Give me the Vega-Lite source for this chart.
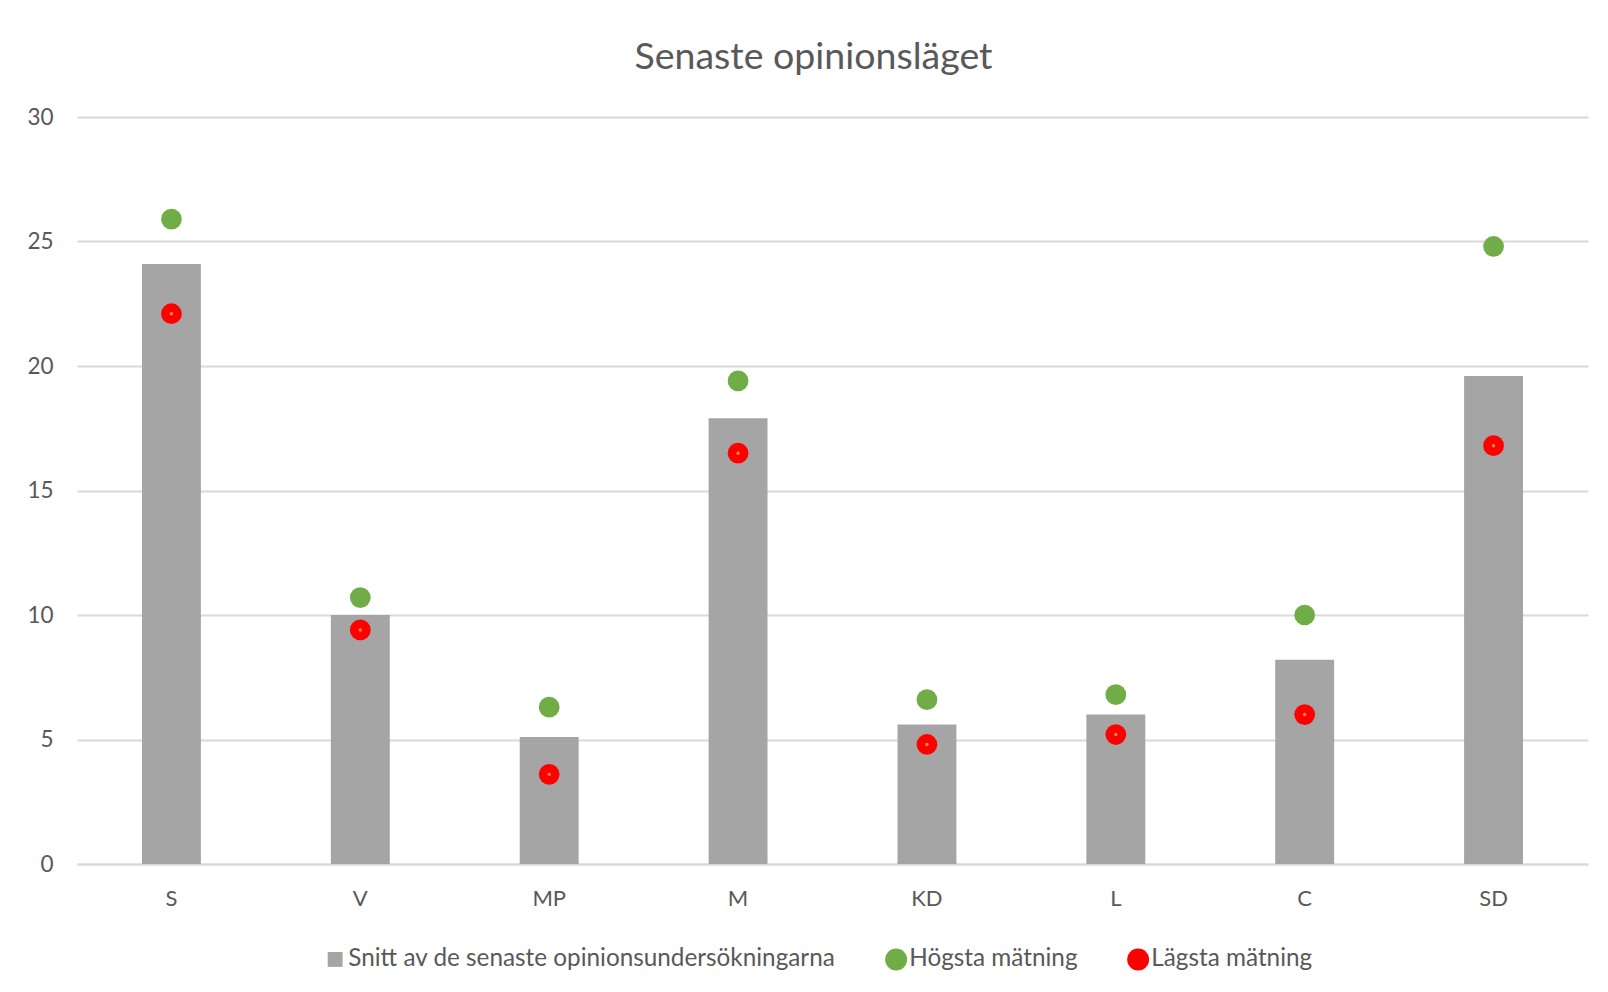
{
  "$schema": "https://vega.github.io/schema/vega-lite/v6.json",
  "width": 1511,
  "height": 747,
  "autosize": {"type": "none"},
  "padding": {"left": 77, "top": 117, "right": 20, "bottom": 128},
  "background": "white",
  "title": {"text": "Senaste opinionsläget", "fontSize": 37.5, "font": "Lato", "fontWeight": "normal", "color": "#595959", "anchor": "middle", "offset": 30, "dx": -19},
  "config": {"view": {"stroke": null}, "font": "Lato"},
  "data": {"values": [
    {"parti": "S", "serie": "Snitt av de senaste opinionsundersökningarna", "varde": 24.1},
    {"parti": "V", "serie": "Snitt av de senaste opinionsundersökningarna", "varde": 10.0},
    {"parti": "MP", "serie": "Snitt av de senaste opinionsundersökningarna", "varde": 5.1},
    {"parti": "M", "serie": "Snitt av de senaste opinionsundersökningarna", "varde": 17.9},
    {"parti": "KD", "serie": "Snitt av de senaste opinionsundersökningarna", "varde": 5.6},
    {"parti": "L", "serie": "Snitt av de senaste opinionsundersökningarna", "varde": 6.0},
    {"parti": "C", "serie": "Snitt av de senaste opinionsundersökningarna", "varde": 8.2},
    {"parti": "SD", "serie": "Snitt av de senaste opinionsundersökningarna", "varde": 19.6},
    {"parti": "S", "serie": "Högsta mätning", "varde": 25.9},
    {"parti": "V", "serie": "Högsta mätning", "varde": 10.7},
    {"parti": "MP", "serie": "Högsta mätning", "varde": 6.3},
    {"parti": "M", "serie": "Högsta mätning", "varde": 19.4},
    {"parti": "KD", "serie": "Högsta mätning", "varde": 6.6},
    {"parti": "L", "serie": "Högsta mätning", "varde": 6.8},
    {"parti": "C", "serie": "Högsta mätning", "varde": 10.0},
    {"parti": "SD", "serie": "Högsta mätning", "varde": 24.8},
    {"parti": "S", "serie": "Lägsta mätning", "varde": 22.1},
    {"parti": "V", "serie": "Lägsta mätning", "varde": 9.4},
    {"parti": "MP", "serie": "Lägsta mätning", "varde": 3.6},
    {"parti": "M", "serie": "Lägsta mätning", "varde": 16.5},
    {"parti": "KD", "serie": "Lägsta mätning", "varde": 4.8},
    {"parti": "L", "serie": "Lägsta mätning", "varde": 5.2},
    {"parti": "C", "serie": "Lägsta mätning", "varde": 6.0},
    {"parti": "SD", "serie": "Lägsta mätning", "varde": 16.8}
  ]},
  "encoding": {
    "x": {
      "field": "parti", "type": "nominal",
      "sort": ["S", "V", "MP", "M", "KD", "L", "C", "SD"],
      "scale": {"paddingInner": 0.688, "paddingOuter": 0.344},
      "axis": {"title": null, "labelAngle": 0, "labelFontSize": 22, "labelColor": "#595959", "labelFont": "Lato", "ticks": false, "domainColor": "#D9D9D9", "domainWidth": 2, "labelPadding": 24}
    },
    "y": {
      "field": "varde", "type": "quantitative",
      "scale": {"domain": [0, 30], "nice": false},
      "axis": {"title": null, "values": [0, 5, 10, 15, 20, 25, 30], "labelFontSize": 22.5, "labelColor": "#595959", "labelFont": "Lato", "ticks": false, "domain": false, "gridColor": "#D9D9D9", "gridWidth": 2, "labelPadding": 24}
    }
  },
  "layer": [
    {
      "transform": [{"filter": "datum.serie === 'Snitt av de senaste opinionsundersökningarna'"}],
      "mark": {"type": "bar"},
      "encoding": {
        "color": {
          "field": "serie", "type": "nominal",
          "scale": {"domain": ["Snitt av de senaste opinionsundersökningarna", "Högsta mätning", "Lägsta mätning"], "range": ["#A5A5A5", "#70AD47", "#FF0000"]},
          "legend": {"title": null, "orient": "none", "direction": "horizontal", "legendX": 246, "legendY": 830, "labelFontSize": 24.3, "labelColor": "#595959", "labelFont": "Lato", "symbolSize": 480, "symbolStrokeWidth": 0, "symbolOpacity": 1, "labelOffset": 1, "columnPadding": 48, "padding": 0, "labelLimit": 1000}
        }
      }
    },
    {
      "transform": [{"filter": "datum.serie !== 'Snitt av de senaste opinionsundersökningarna'"}],
      "mark": {"type": "point", "filled": true, "size": 430, "opacity": 1},
      "encoding": {
        "color": {
          "field": "serie", "type": "nominal",
          "scale": {"domain": ["Snitt av de senaste opinionsundersökningarna", "Högsta mätning", "Lägsta mätning"], "range": ["#A5A5A5", "#70AD47", "#FF0000"]}
        },
        "shape": {
          "field": "serie", "type": "nominal",
          "scale": {"domain": ["Snitt av de senaste opinionsundersökningarna", "Högsta mätning", "Lägsta mätning"], "range": ["M-0.68,-0.68H0.68V0.68H-0.68Z", "circle", "circle"]}
        }
      }
    },
    {
      "transform": [{"filter": "datum.serie === 'Lägsta mätning'"}],
      "mark": {"type": "point", "filled": true, "size": 12, "opacity": 1, "color": "#F08A3C"},
      "encoding": {}
    }
  ]
}
